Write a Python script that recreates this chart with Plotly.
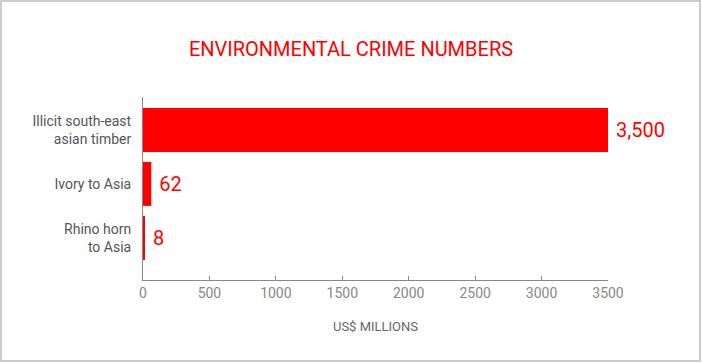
import plotly.graph_objects as go

categories = ["Rhino horn<br>to Asia", "Ivory to Asia", "Illicit south-east<br>asian timber"]
values = [8, 62, 3500]
value_labels = ["8", "62", "3,500"]
tick_vals = [0, 500, 1000, 1500, 2000, 2500, 3000, 3500]
title_text = "ENVIRONMENTAL CRIME NUMBERS"
x_title = "US$ MILLIONS"

W, H = 702, 363
ML, MR, MT, MB = 143, 94, 97, 83
PW, PH = W - ML - MR, H - MT - MB

FONT = "Roboto, sans-serif"
RED = "#ff0000"

fig = go.Figure(go.Bar(
    x=values, y=categories, orientation="h",
    marker=dict(color=RED, line=dict(width=0)),
    text=[" " + t for t in value_labels], textposition="outside",
    textfont=dict(color=RED, size=20, family=FONT),
    constraintext="none", cliponaxis=False, hoverinfo="skip",
))

def px_x(p):
    return (p - ML) / PW

def px_y(p):
    return 1 - (p - MT) / PH

fig.update_layout(
    width=W, height=H,
    margin=dict(l=ML, r=MR, t=MT, b=MB),
    paper_bgcolor="white", plot_bgcolor="white",
    bargap=0.185,
    showlegend=False,
    title=dict(text=title_text, x=0.5, xref="container", xanchor="center",
               y=1 - 49 / H, yanchor="middle",
               font=dict(color=RED, size=20, family=FONT)),
    font=dict(family=FONT),
    xaxis=dict(range=[0, 3500], tickvals=tick_vals, ticks="inside", ticklen=4,
               tickcolor="#888", showline=True, linecolor="#888", linewidth=1,
               showgrid=False, zeroline=False,
               tickfont=dict(color="#888", size=14, family=FONT),
               title=dict(text=x_title, font=dict(color="#666", size=13, family=FONT), standoff=22)),
    yaxis=dict(range=[-0.78, 2.61], showline=True, linecolor="#888", linewidth=1,
               ticks="", showgrid=False, zeroline=False, ticklabelstandoff=8,
               tickfont=dict(color="#555", size=14, family=FONT)),
    shapes=[dict(type="rect", xref="paper", yref="paper",
                 x0=px_x(1), x1=px_x(700), y0=px_y(1), y1=px_y(361),
                 line=dict(color="#cccccc", width=2), layer="below")],
)

fig.write_html("out.html")
